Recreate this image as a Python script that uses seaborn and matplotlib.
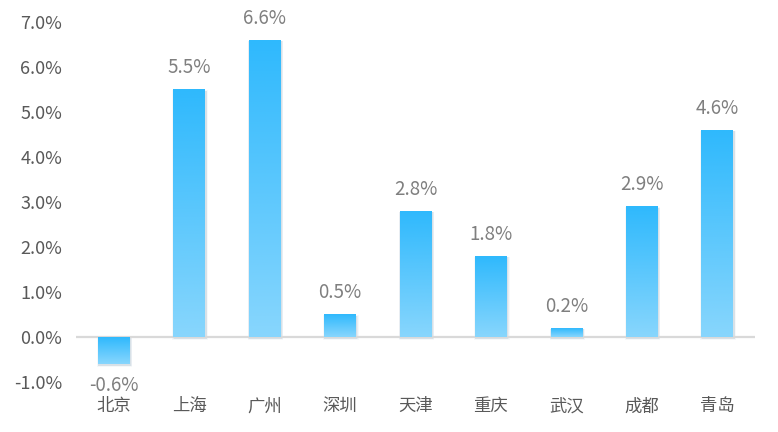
import numpy as np
import pandas as pd
import seaborn as sns
import matplotlib.pyplot as plt
from matplotlib.colors import LinearSegmentedColormap
from matplotlib.patches import Rectangle

cities = ['北京', '上海', '广州', '深圳', '天津', '重庆', '武汉', '成都', '青岛']
growth = [-0.6, 5.5, 6.6, 0.5, 2.8, 1.8, 0.2, 2.9, 4.6]
yticks = [-1.0, 0.0, 1.0, 2.0, 3.0, 4.0, 5.0, 6.0, 7.0]

df = pd.DataFrame({'city': cities, 'growth': growth})

sns.set_style('white')
plt.rcParams['font.family'] = ['Noto Sans CJK SC', 'DejaVu Sans']

fig = plt.figure(figsize=(7.78, 4.32), dpi=100)
ax = fig.add_axes([0.0977, 0.1157, 0.8727, 0.8330])

sns.barplot(data=df, x='city', y='growth', color='#2fb9fd', width=0.42,
            saturation=1, ax=ax, zorder=2)

# gradient fill + soft shadow for each bar
cmap = LinearSegmentedColormap.from_list('blue', ['#88d6fd', '#2fb9fd'])
grad = np.linspace(0, 1, 256).reshape(-1, 1)
for patch in ax.patches:
    x0, w = patch.get_x(), patch.get_width()
    y0, h = patch.get_y(), patch.get_height()
    lo, hi = min(y0, y0 + h), max(y0, y0 + h)
    for k, a in enumerate([0.08, 0.06, 0.04]):
        pad = 0.014 * (k + 1)
        ax.add_patch(Rectangle((x0 - pad * 0.6 + 0.012, lo - pad * 0.6 - 0.035),
                               w + pad * 1.2, (hi - lo) + pad,
                               color='#1f4e79', alpha=a, lw=0, zorder=1))
    patch.set_alpha(0)
    ax.imshow(grad, extent=(x0, x0 + w, lo, hi), origin='lower', cmap=cmap,
              aspect='auto', zorder=3, interpolation='bicubic')

for i, v in enumerate(growth):
    if v >= 0:
        ax.text(i, v + 0.25, f'{v:.1f}%', ha='center', va='bottom',
                fontsize=13.5, color='#7f7f7f')
    else:
        ax.text(i, v - 0.25, f'{v:.1f}%', ha='center', va='top',
                fontsize=13.5, color='#7f7f7f')

ax.axhline(0, color='#d9d9d9', lw=1.6, zorder=2)
ax.set_xlim(-0.5, len(cities) - 0.5)
ax.set_ylim(-1.0, 7.0)
ax.set_yticks(yticks)
ax.set_yticklabels([f'{t:.1f}%' for t in yticks])
ax.tick_params(axis='both', length=0, colors='#595959')
ax.tick_params(axis='y', pad=10, labelsize=13)
ax.tick_params(axis='x', pad=11, labelsize=12.5)
ax.set_xlabel('')
ax.set_ylabel('')
for s in ax.spines.values():
    s.set_visible(False)
ax.grid(False)

fig.savefig('out.png', dpi=100)
